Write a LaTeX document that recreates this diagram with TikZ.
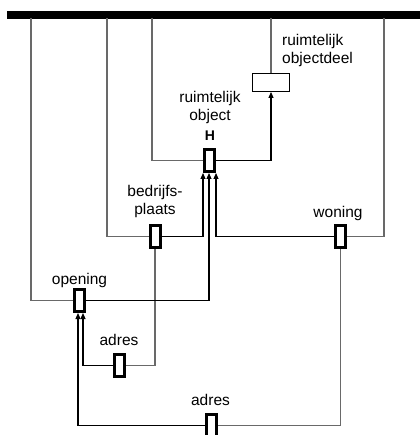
\documentclass[tikz,border=0pt]{standalone}
\usepackage{fontspec}
\setmainfont{Liberation Sans}
\usetikzlibrary{arrows.meta}
\definecolor{linegray}{RGB}{105,105,105}
\begin{document}
\begin{tikzpicture}[x=1pt,y=-1pt,
  markbox/.style={draw=black,line width=3pt,fill=white,minimum width=10pt,minimum height=22pt,inner sep=0pt},
  partbox/.style={draw=black,line width=0.9pt,fill=white,minimum width=37pt,minimum height=18pt,inner sep=0pt},
  feed/.style={draw=linegray,line width=1.1pt},
  link/.style={draw=black,line width=1.1pt,-{Triangle[length=6pt,width=5pt]}},
  lbl/.style={font=\fontsize{15.5}{17.5}\selectfont,inner sep=0pt},
]
\useasboundingbox (0,0) rectangle (419,435);
% top bar
\node[fill=black,inner sep=0pt,minimum width=413pt,minimum height=7.5pt,anchor=north west] (bar) at (7,11) {};
\coordinate (t1) at (31,18);
\coordinate (t2) at (107,18);
\coordinate (t3) at (152,18);
\coordinate (t4) at (271,18);
\coordinate (t5) at (384,18);
% boxes
\node[partbox] (od) at (271,82.5) {};
\node[markbox] (H) at (209.5,160.5) {};
\node[markbox] (bp) at (155,236.5) {};
\node[markbox] (won) at (340.5,236.5) {};
\node[markbox] (op) at (79.5,300.5) {};
\node[markbox] (am) at (119.5,365.5) {};
\node[markbox] (ab) at (211,425.5) {};
% labels
\node[lbl,align=left,anchor=north west] (lod) at (282,34.5) {ruimtelijk\\objectdeel};
\node[lbl,align=center,anchor=north] (lro) at (210,91.5) {ruimtelijk\\object};
\node[inner sep=0pt,anchor=base,font=\fontsize{14}{16}\selectfont\bfseries] (lH) at (210,140.5) {H};
\node[lbl,align=center,anchor=north] (lbp) at (155,185.5) {bedrijfs-\\plaats};
\node[lbl,anchor=base] (lwon) at (338,217) {woning};
\node[lbl,anchor=base] (lop) at (79.5,284) {opening};
\node[lbl,anchor=base] (lam) at (119,345.7) {adres};
\node[lbl,anchor=base] (lab) at (210.5,405.3) {adres};
% lines from the top bar
\draw[feed] (t1) |- (op.west);
\draw[feed] (t2) |- (bp.west);
\draw[feed] (t3) |- (H.west);
\draw[feed] (t4) -- (od.north);
\draw[feed] (t5) |- (won.east);
% other lines
\draw[feed] (bp.south) |- (am.east);
\draw[feed] (won.south) |- (ab.east);
% arrows
\draw[link] (H.east) -| (od.south);
\draw[link] (bp.east) -| ([xshift=-6.5pt]H.south);
\draw[link] (op.east) -| ([xshift=-0.5pt]H.south);
\draw[link] (won.west) -| ([xshift=6.5pt]H.south);
\draw[link] (am.west) -| ([xshift=3.5pt]op.south);
\draw[link] (ab.west) -| ([xshift=-1.5pt]op.south);
\end{tikzpicture}
\end{document}
